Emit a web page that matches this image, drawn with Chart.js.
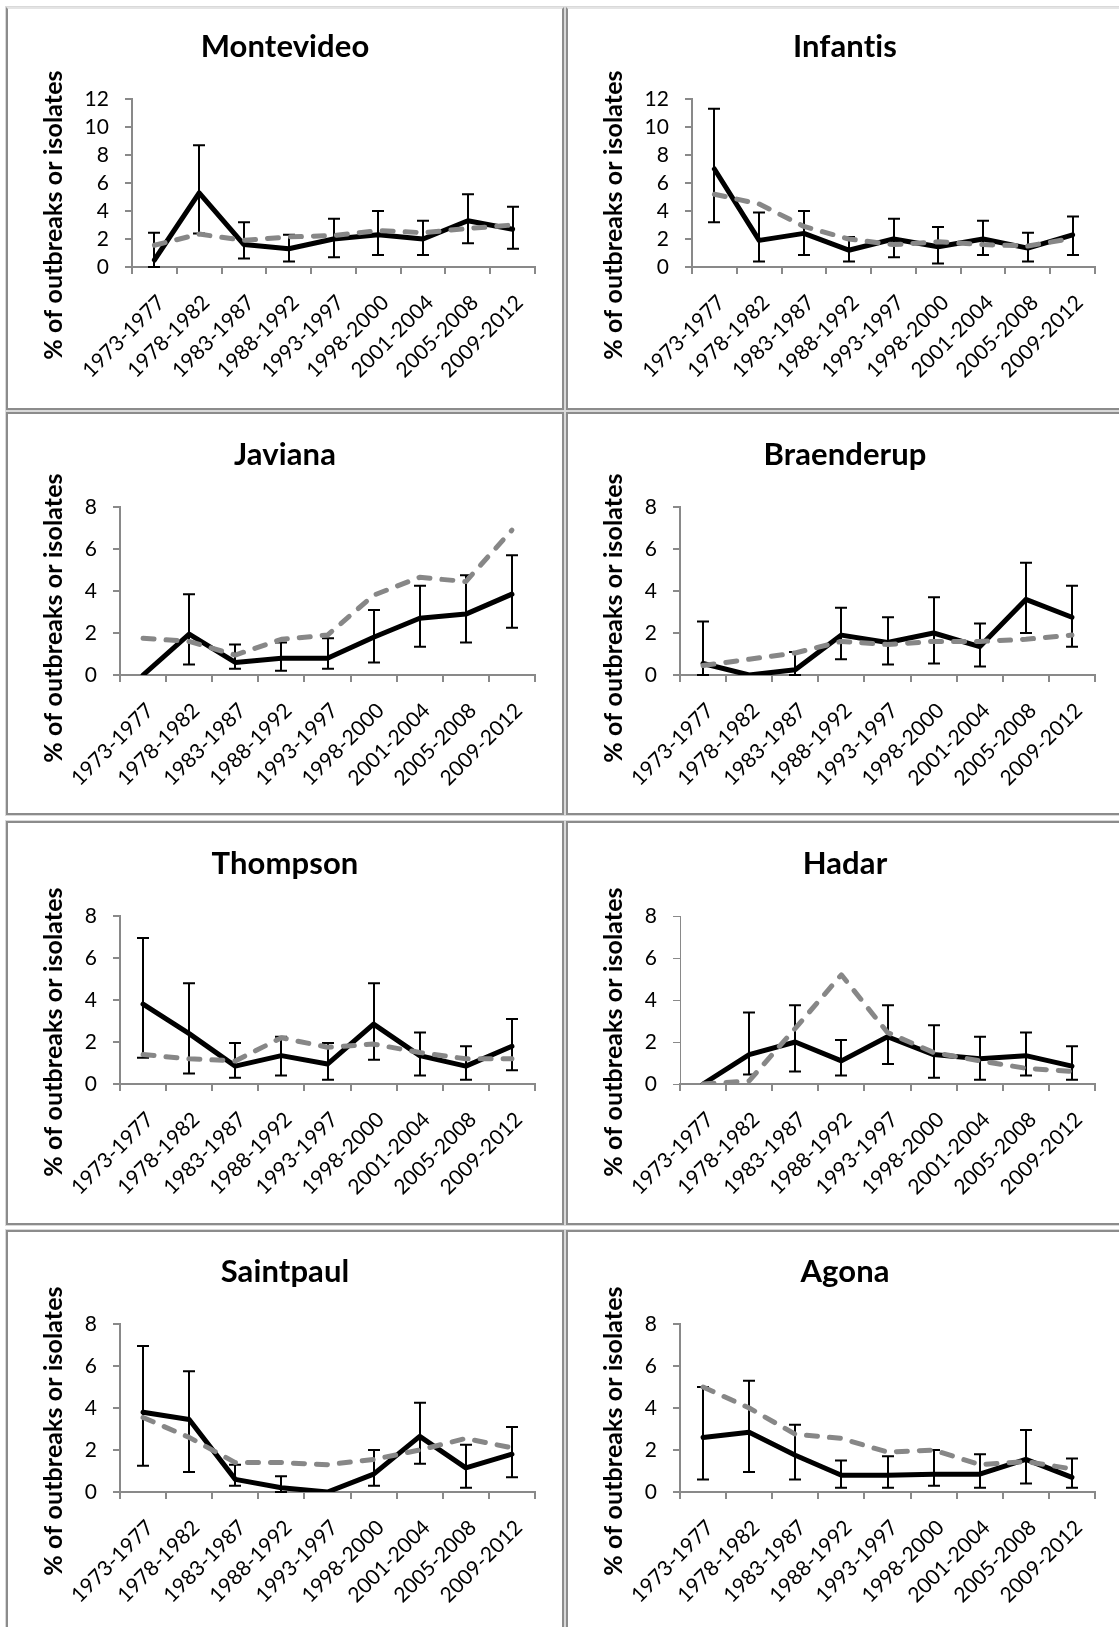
<!DOCTYPE html>
<html>
<head>
<meta charset="utf-8">
<script src="https://cdn.jsdelivr.net/npm/chart.js@4.4.1/dist/chart.umd.min.js"></script>
<style>
  html, body { margin: 0; padding: 0; background: #fff; }
  body { width: 1119px; height: 1627px; position: relative; overflow: hidden; }
  .panel { position: absolute; box-sizing: border-box; border: 2px solid #8c8c8c; box-shadow: 0 0 0 1px #d9d9d9; }
  canvas { position: absolute; }
</style>
</head>
<body>
<script>
// Five-year periods on the category axis
const periods = ['1973-1977', '1978-1982', '1983-1987', '1988-1992', '1993-1997',
                 '1998-2000', '2001-2004', '2005-2008', '2009-2012'];

// Per serotype: % of outbreaks (solid, with 95% CI), CI bounds, % of isolates (dashed)
const montevideoOutbreaks = [0.5, 5.3, 1.6, 1.3, 2.0, 2.3, 2.0, 3.3, 2.7];
const montevideoLow       = [0.0, 2.4, 0.6, 0.4, 0.7, 0.85, 0.85, 1.7, 1.3];
const montevideoHigh      = [2.45, 8.7, 3.2, 2.3, 3.45, 4.0, 3.3, 5.2, 4.3];
const montevideoIsolates  = [1.55, 2.35, 1.9, 2.15, 2.25, 2.6, 2.45, 2.75, 3.0];

const infantisOutbreaks = [7.0, 1.9, 2.4, 1.2, 2.0, 1.45, 2.0, 1.35, 2.3];
const infantisLow       = [3.2, 0.4, 0.85, 0.4, 0.7, 0.25, 0.85, 0.4, 0.85];
const infantisHigh      = [11.3, 3.9, 4.0, 2.15, 3.45, 2.85, 3.3, 2.45, 3.6];
const infantisIsolates  = [5.2, 4.5, 2.9, 2.0, 1.6, 1.8, 1.6, 1.5, 2.05];

const javianaOutbreaks = [0, 1.95, 0.6, 0.8, 0.8, 1.8, 2.7, 2.9, 3.85];
const javianaLow       = [null, 0.5, 0.3, 0.2, 0.3, 0.6, 1.35, 1.55, 2.25];
const javianaHigh      = [null, 3.85, 1.45, 1.55, 1.75, 3.1, 4.25, 4.75, 5.7];
const javianaIsolates  = [1.75, 1.6, 0.95, 1.7, 1.9, 3.8, 4.65, 4.45, 6.9];

const braenderupOutbreaks = [0.55, 0, 0.25, 1.9, 1.55, 2.0, 1.35, 3.6, 2.75];
const braenderupLow       = [0, null, 0, 0.75, 0.5, 0.55, 0.4, 2.0, 1.35];
const braenderupHigh      = [2.55, null, 1.1, 3.2, 2.75, 3.7, 2.45, 5.35, 4.25];
const braenderupIsolates  = [0.45, 0.75, 1.05, 1.6, 1.45, 1.6, 1.6, 1.7, 1.9];

const thompsonOutbreaks = [3.8, 2.4, 0.85, 1.35, 0.95, 2.85, 1.35, 0.85, 1.8];
const thompsonLow       = [1.25, 0.5, 0.3, 0.4, 0.2, 1.15, 0.4, 0.2, 0.65];
const thompsonHigh      = [6.95, 4.8, 1.95, 2.25, 1.95, 4.8, 2.45, 1.8, 3.1];
const thompsonIsolates  = [1.4, 1.2, 1.1, 2.2, 1.75, 1.9, 1.5, 1.2, 1.2];

const hadarOutbreaks = [0, 1.4, 2.0, 1.1, 2.25, 1.4, 1.2, 1.35, 0.85];
const hadarLow       = [null, 0.45, 0.6, 0.4, 0.95, 0.3, 0.2, 0.4, 0.2];
const hadarHigh      = [null, 3.4, 3.75, 2.1, 3.75, 2.8, 2.25, 2.45, 1.8];
const hadarIsolates  = [0, 0.15, 2.65, 5.2, 2.45, 1.5, 1.1, 0.75, 0.6];

const saintpaulOutbreaks = [3.8, 3.45, 0.6, 0.2, 0, 0.85, 2.65, 1.15, 1.8];
const saintpaulLow       = [1.25, 0.95, 0.3, 0, null, 0.3, 1.35, 0.2, 0.7];
const saintpaulHigh      = [6.95, 5.75, 1.3, 0.75, null, 2.0, 4.25, 2.25, 3.1];
const saintpaulIsolates  = [3.55, 2.6, 1.4, 1.4, 1.3, 1.55, 2.0, 2.55, 2.1];

const agonaOutbreaks = [2.6, 2.85, 1.75, 0.8, 0.8, 0.85, 0.85, 1.55, 0.7];
const agonaLow       = [0.6, 0.95, 0.6, 0.2, 0.2, 0.3, 0.2, 0.4, 0.2];
const agonaHigh      = [5.0, 5.3, 3.2, 1.5, 1.7, 2.0, 1.8, 2.95, 1.6];
const agonaIsolates  = [5.0, 4.0, 2.75, 2.55, 1.9, 2.0, 1.3, 1.45, 1.1];

const yTickValues12 = [0, 2, 4, 6, 8, 10, 12];
const yTickValues8  = [0, 2, 4, 6, 8];
const axisCaption = '% of outbreaks or isolates';

const panels = [
  { name: 'Montevideo', out: montevideoOutbreaks, low: montevideoLow, high: montevideoHigh, iso: montevideoIsolates, ticks: yTickValues12 },
  { name: 'Infantis',   out: infantisOutbreaks,   low: infantisLow,   high: infantisHigh,   iso: infantisIsolates,   ticks: yTickValues12 },
  { name: 'Javiana',    out: javianaOutbreaks,    low: javianaLow,    high: javianaHigh,    iso: javianaIsolates,    ticks: yTickValues8 },
  { name: 'Braenderup', out: braenderupOutbreaks, low: braenderupLow, high: braenderupHigh, iso: braenderupIsolates, ticks: yTickValues8 },
  { name: 'Thompson',   out: thompsonOutbreaks,   low: thompsonLow,   high: thompsonHigh,   iso: thompsonIsolates,   ticks: yTickValues8 },
  { name: 'Hadar',      out: hadarOutbreaks,      low: hadarLow,      high: hadarHigh,      iso: hadarIsolates,      ticks: yTickValues8, dashedAxis: true },
  { name: 'Saintpaul',  out: saintpaulOutbreaks,  low: saintpaulLow,  high: saintpaulHigh,  iso: saintpaulIsolates,  ticks: yTickValues8 },
  { name: 'Agona',      out: agonaOutbreaks,      low: agonaLow,      high: agonaHigh,      iso: agonaIsolates,      ticks: yTickValues8 }
];

// ---- layout of the 2 x 4 grid ----
const colLeft   = [6, 566];
const colWidth  = [558, 560];
const rowTop    = [7, 412, 821, 1230];
const rowHeight = [403, 403, 404, 403];
const canvasTop = [5, 413, 822, 1230];
const captionY  = [210, 205, 210, 201];
const CW = 554, CH = 400;
const PLOT_TOP = 94, PLOT_BOTTOM = 262, PLOT_RIGHT = 527;
const SIDE_PAD = CW - PLOT_RIGHT;
const AXIS_GRAY = '#898989';
const FONT = 'Lato, "Open Sans", sans-serif';
const TICK_SIZE = 21;

// Keep letters unjoined (no "ti"/"fi" ligatures) in all canvas text
const textStylePlugin = {
  id: 'textStyle',
  beforeDraw(chart) {
    if ('letterSpacing' in chart.ctx) chart.ctx.letterSpacing = '0.1px';
  }
};

// Confidence-interval whiskers, drawn right after the solid series
const errorBarPlugin = {
  id: 'errorBars',
  afterDatasetDraw(chart, args, opts) {
    if (args.index !== 0) return;
    const { ctx } = chart;
    const x = chart.scales.x, y = chart.scales.y;
    ctx.save();
    ctx.strokeStyle = '#000';
    ctx.lineWidth = 2;
    ctx.lineCap = 'butt';
    opts.low.forEach((lo, i) => {
      const hi = opts.high[i];
      if (lo == null || hi == null) return;
      const px = Math.round(x.getPixelForValue(i));
      const y1 = y.getPixelForValue(lo), y2 = y.getPixelForValue(hi);
      ctx.beginPath();
      ctx.moveTo(px, y1); ctx.lineTo(px, y2);
      ctx.moveTo(px - 6, y1); ctx.lineTo(px + 6, y1);
      ctx.moveTo(px - 6, y2); ctx.lineTo(px + 6, y2);
      ctx.stroke();
    });
    ctx.restore();
  }
};

// Rotated value-axis caption
const captionPlugin = {
  id: 'axisCaption',
  afterDraw(chart, args, opts) {
    const { ctx } = chart;
    ctx.save();
    ctx.translate(opts.x, opts.y);
    ctx.rotate(-Math.PI / 2);
    ctx.font = 'bold ' + opts.size + 'px ' + FONT;
    ctx.fillStyle = '#000';
    ctx.textAlign = 'center';
    ctx.textBaseline = 'middle';
    ctx.fillText(opts.text, 0, 0);
    ctx.restore();
  }
};

panels.forEach((p, k) => {
  const col = k % 2, row = Math.floor(k / 2);

  const box = document.createElement('div');
  box.className = 'panel';
  box.style.left = colLeft[col] + 'px';
  box.style.top = rowTop[row] + 'px';
  box.style.width = colWidth[col] + 'px';
  box.style.height = rowHeight[row] + 'px';
  if (row === 0) box.style.borderTopColor = '#e4e4e4';
  document.body.appendChild(box);

  const canvas = document.createElement('canvas');
  canvas.width = CW; canvas.height = CH;
  canvas.style.width = CW + 'px'; canvas.style.height = CH + 'px';
  canvas.style.left = (colLeft[col] + 2) + 'px';
  canvas.style.top = canvasTop[row] + 'px';
  document.body.appendChild(canvas);

  const yMax = p.ticks[p.ticks.length - 1];
  const plotLeft = yMax >= 10 ? 124 : 112;
  const titleSize = 31;
  const titleLine = titleSize * 1.2;
  const titlePadTop = 42 - titleLine / 2;

  new Chart(canvas, {
    type: 'line',
    data: {
      labels: periods,
      datasets: [
        { label: 'Outbreaks', data: p.out, borderColor: '#000', borderWidth: 5,
          pointRadius: 0, tension: 0, borderJoinStyle: 'round', borderCapStyle: 'round', order: 2 },
        { label: 'Isolates', data: p.iso, borderColor: '#878787', borderWidth: 5,
          borderDash: [11, 12], borderCapStyle: 'round', borderJoinStyle: 'round',
          pointRadius: 0, tension: 0, order: 1 }
      ]
    },
    options: {
      responsive: false,
      animation: false,
      devicePixelRatio: 1,
      layout: { padding: { left: SIDE_PAD, right: SIDE_PAD, top: 0, bottom: 0 } },
      plugins: {
        legend: { display: false },
        tooltip: { enabled: false },
        title: {
          display: true, text: p.name, color: '#000',
          font: { family: FONT, size: titleSize, weight: 'bold', lineHeight: 1.2 },
          padding: { top: titlePadTop, bottom: PLOT_TOP - titlePadTop - titleLine }
        },
        errorBars: { low: p.low, high: p.high },
        axisCaption: { text: axisCaption, x: 46, y: captionY[row], size: 25 }
      },
      scales: {
        x: {
          type: 'category',
          offset: true,
          grid: { offset: true, drawOnChartArea: false, drawTicks: true, tickLength: 7, color: AXIS_GRAY, lineWidth: 2 },
          border: { color: AXIS_GRAY, width: 2 },
          ticks: { autoSkip: false, minRotation: 45, maxRotation: 45, padding: 16, labelOffset: 7,
                   color: '#000', font: { family: FONT, size: TICK_SIZE } },
          afterFit(s) { s.height = CH - PLOT_BOTTOM; }
        },
        y: {
          min: 0, max: yMax,
          afterBuildTicks(s) { s.ticks = p.ticks.map(v => ({ value: v })); },
          grid: { drawOnChartArea: false, drawTicks: true, tickLength: 7, color: AXIS_GRAY,
                  lineWidth: p.dashedAxis ? 1 : 2 },
          border: { color: AXIS_GRAY, width: p.dashedAxis ? 1 : 2, dash: p.dashedAxis ? [3, 3] : [] },
          ticks: { autoSkip: false, padding: 16, color: '#000', font: { family: FONT, size: TICK_SIZE } },
          afterFit(s) { s.width = plotLeft - SIDE_PAD; }
        }
      }
    },
    plugins: [textStylePlugin, errorBarPlugin, captionPlugin]
  });
});
</script>
</body>
</html>
